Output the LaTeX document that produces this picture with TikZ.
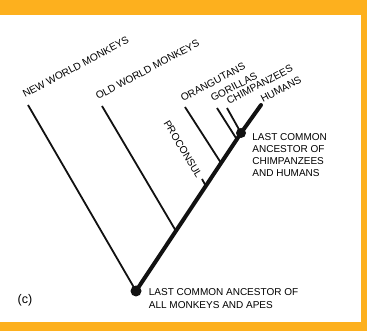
\documentclass[tikz,border=0pt]{standalone}
\usepackage{fontspec}
\setmainfont{Liberation Sans}
\usetikzlibrary{positioning,calc}
\definecolor{treeFrame}{HTML}{FDB01E}
\definecolor{treeInk}{HTML}{111111}
\tikzset{
  branch/.style={line width=1.8pt, draw=treeInk},
  stemline/.style={line width=4pt, draw=treeInk, line cap=round},
  ancestor/.style={circle, fill=treeInk, inner sep=0pt, minimum size=10pt},
  taxon/.style={font=\fontsize{10.2}{12}\selectfont, rotate=28, anchor=base west,
    inner sep=0pt},
  ancnote/.style={font=\fontsize{10}{12}\selectfont, align=left, inner sep=0pt,
    anchor=north west}
}

\begin{document}
\begin{tikzpicture}[x=1pt, y=-1pt]
  % frame
  \fill[treeFrame] (0,0) rectangle (367,331);
  \fill[white] (0,15) rectangle (361,322);
  \useasboundingbox (0,0) rectangle (367,331);

  % ancestors
  \node[ancestor, minimum size=11pt] (root) at (136,291) {};
  \node[ancestor] (hcdot) at (241,133) {};

  % branch tips
  \coordinate (nwm) at (28,105);
  \coordinate (owm) at (102,106);
  \coordinate (ora) at (185,107);
  \coordinate (gor) at (217,108);
  \coordinate (chi) at (227,108);
  \coordinate (hum) at (261,105);
  \coordinate (pct) at (202,179);

  % joins on the main line
  \coordinate (owj) at ($(root)!0.38!(hcdot)$);
  \coordinate (prj) at ($(root)!0.665!(hcdot)$);
  \coordinate (oraj) at ($(root)!0.81!(hcdot)$);
  \coordinate (gorj) at ($(root)!0.96!(hcdot)$);

  % side branches
  \draw[branch] (root.center) -- (nwm);
  \draw[branch] (owj) -- (owm);
  \draw[branch] (oraj) -- (ora);
  \draw[branch] (gorj) -- (gor);
  \draw[branch] (hcdot.center) -- (chi);
  \draw[branch] (prj) -- (pct);

  % main lineage
  \draw[stemline] (root.center) -- (hcdot.center) -- (hum);

  % labels
  \node[taxon] (nwmlab) at ($(nwm)+(-3,-7)$) {NEW WORLD MONKEYS};
  \node[taxon] (owmlab) at ($(owm)+(-4,-6)$) {OLD WORLD MONKEYS};
  \node[taxon] (oralab) at ($(ora)+(-2,-5)$) {ORANGUTANS};
  \node[taxon] (gorlab) at ($(gor)+(-4,-6)$) {GORILLAS};
  \node[taxon] (chilab) at ($(chi)+(2,-3)$) {CHIMPANZEES};
  \node[taxon] (humlab) at ($(hum)+(2,-2)$) {HUMANS};
  \node[font=\fontsize{10.2}{12}\selectfont, rotate=-59, inner sep=0pt] (prlab) at (183,149) {PROCONSUL};

  \node[ancnote] (hcnote) at ([xshift=6pt, yshift=0pt]hcdot.east)
    {LAST COMMON\\ANCESTOR OF\\CHIMPANZEES\\AND HUMANS};
  \node[ancnote, font=\fontsize{10}{13}\selectfont] (rootnote) at ([xshift=7pt, yshift=2.5pt]root.east)
    {LAST COMMON ANCESTOR OF\\ALL MONKEYS AND APES};
  \node[font=\fontsize{12.5}{14}\selectfont] (panel) at (25,300) {(c)};
\end{tikzpicture}
\end{document}
